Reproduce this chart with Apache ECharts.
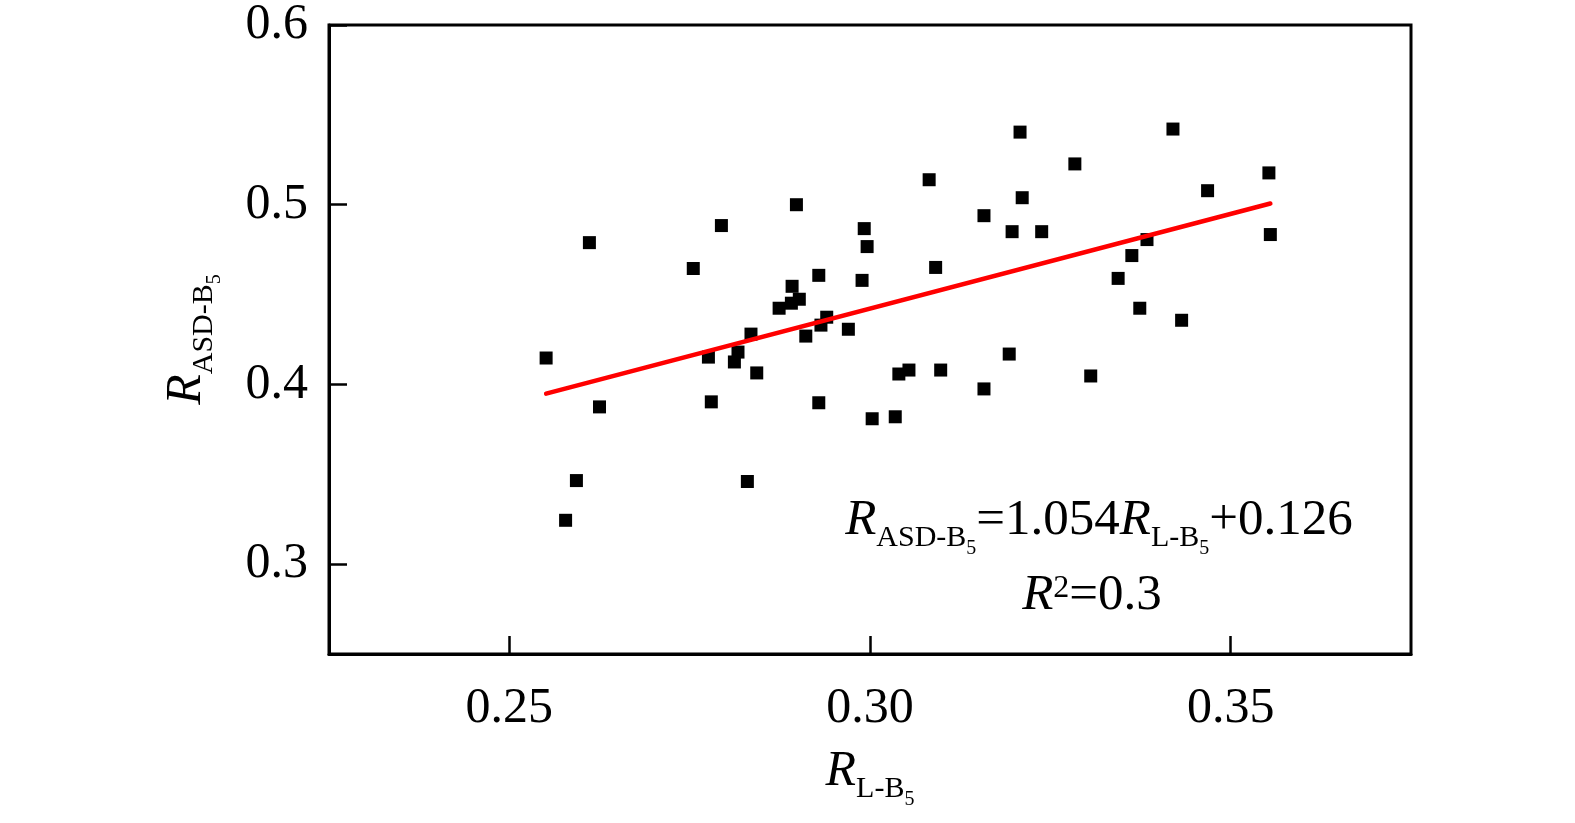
<!DOCTYPE html>
<html>
<head>
<meta charset="utf-8">
<script src="https://cdn.jsdelivr.net/npm/echarts@6/dist/echarts.min.js"></script>
<style>
html,body{margin:0;padding:0;background:#fff;}
#chart{width:1575px;height:823px;}
</style>
</head>
<body>
<div id="chart"></div>
<script>
// R_L-B5 (x) values
const xValues = [
  0.2551, 0.2611, 0.2625, 0.2593, 0.2578, 0.2755, 0.2794, 0.2776, 0.2780, 0.2817,
  0.2812, 0.2830, 0.2835, 0.2843, 0.2874, 0.2891, 0.2892, 0.2902, 0.2898, 0.2911,
  0.2929, 0.2932, 0.2940, 0.2929, 0.2970, 0.2989, 0.2992, 0.2996, 0.3003, 0.3035,
  0.3040, 0.3054, 0.3082, 0.3091, 0.3098, 0.3158, 0.3158, 0.3193, 0.3197, 0.3208,
  0.3211, 0.3238, 0.3284, 0.3306, 0.3344, 0.3363, 0.3374, 0.3384, 0.3420, 0.3432,
  0.3468, 0.3553, 0.3555
];
// R_ASD-B5 (y) values
const yValues = [
  0.4147, 0.4789, 0.3875, 0.3465, 0.3244, 0.4645, 0.4884, 0.4152, 0.3903, 0.4180,
  0.4125, 0.3460, 0.4280, 0.4064, 0.4424, 0.4452, 0.4546, 0.4474, 0.5000, 0.4269,
  0.4607, 0.4330, 0.4374, 0.3898, 0.4307, 0.4579, 0.4867, 0.4767, 0.3809, 0.3820,
  0.4058, 0.4080, 0.5139, 0.4651, 0.4080, 0.4939, 0.3975, 0.4169, 0.4850, 0.5404,
  0.5039, 0.4850, 0.5227, 0.4047, 0.4590, 0.4717, 0.4424, 0.4806, 0.5421, 0.4357,
  0.5078, 0.5177, 0.4834
];
// regression fit shown in the figure
const fitSlope = 1.054;
const fitIntercept = 0.126;
const fitR2 = 0.3;
// tick labels
const xTicks = [0.25, 0.30, 0.35];
const yTicks = [0.3, 0.4, 0.5, 0.6];

const FONT = 'Liberation Serif';

const points = xValues.map((x, i) => [x, yValues[i]]);
const xMin = Math.min(...xValues), xMax = Math.max(...xValues);
const fitLine = [[xMin, fitSlope * xMin + fitIntercept], [xMax, fitSlope * xMax + fitIntercept]];

function subRich(big, sub, ss) {
  return {
    r: {fontFamily: FONT, fontStyle: 'italic', fontSize: big, lineHeight: big, color: '#000', verticalAlign: 'bottom', padding: [0, 0, 13, 0]},
    n: {fontFamily: FONT, fontSize: big, lineHeight: big, color: '#000', verticalAlign: 'bottom', padding: [0, 0, 13, 0]},
    s: {fontFamily: FONT, fontSize: sub, lineHeight: sub, color: '#000', verticalAlign: 'bottom', padding: [0, 0, 6, 0]},
    ss: {fontFamily: FONT, fontSize: ss, lineHeight: ss, color: '#000', verticalAlign: 'bottom', padding: [0, 0, 0, 0]}
  };
}

const chart = echarts.init(document.getElementById('chart'), null, {renderer: 'canvas'});
chart.setOption({
  animation: false,
  backgroundColor: '#fff',
  grid: {left: 329, top: 25, width: 1082, height: 629, show: true, borderColor: '#000', borderWidth: 3, backgroundColor: 'transparent'},
  xAxis: {
    type: 'value', min: 0.225, max: 0.375,
    splitLine: {show: false},
    axisLine: {show: true, lineStyle: {color: '#000', width: 3}},
    axisTick: {show: true, inside: true, length: 18, lineStyle: {color: '#000', width: 2.5}, customValues: xTicks},
    axisLabel: {customValues: xTicks, formatter: v => v.toFixed(2), fontFamily: FONT, fontSize: 50, color: '#000', margin: 30},
    name: '{r|R}{s|L-B}{ss|5}',
    nameLocation: 'middle',
    nameGap: 106,
    nameTextStyle: {rich: subRich(50, 30, 20)}
  },
  yAxis: {
    type: 'value', min: 0.25, max: 0.6,
    splitLine: {show: false},
    axisLine: {show: true, lineStyle: {color: '#000', width: 3}},
    axisTick: {show: true, inside: true, length: 18, lineStyle: {color: '#000', width: 2.5}, customValues: yTicks},
    axisLabel: {customValues: yTicks, formatter: v => v.toFixed(1), fontFamily: FONT, fontSize: 50, color: '#000', margin: 21},
    name: '{r|R}{s|ASD-B}{ss|5}',
    nameLocation: 'middle',
    nameRotate: 90,
    nameGap: 104,
    nameTextStyle: {rich: subRich(50, 30, 20)}
  },
  series: [
    {
      type: 'scatter', data: points, symbol: 'rect', symbolSize: 13,
      itemStyle: {color: '#000', opacity: 1}, z: 2
    },
    {
      type: 'line', data: fitLine, symbol: 'none', z: 3,
      lineStyle: {color: '#ff0000', width: 4.5, cap: 'round'}
    }
  ],
  graphic: [
    {
      type: 'text', x: 1099, y: 508, z: 10,
      style: {
        text: '{r|R}{s|ASD-B}{ss|5}{n|=' + fitSlope.toFixed(3) + '}{r|R}{s|L-B}{ss|5}{n|+' + fitIntercept.toFixed(3) + '}',
        align: 'center', verticalAlign: 'top',
        rich: subRich(51, 30, 20)
      }
    },
    {
      type: 'text', x: 1092, y: 570, z: 10,
      style: {
        text: '{r|R}{sup|2}{n|=' + fitR2 + '}',
        align: 'center', verticalAlign: 'top',
        rich: {
          r: {fontFamily: FONT, fontStyle: 'italic', fontSize: 51, lineHeight: 51, color: '#000', verticalAlign: 'bottom'},
          n: {fontFamily: FONT, fontSize: 51, lineHeight: 51, color: '#000', verticalAlign: 'bottom'},
          sup: {fontFamily: FONT, fontSize: 32, lineHeight: 32, color: '#000', verticalAlign: 'bottom', padding: [0, 0, 16, 0]}
        }
      }
    }
  ]
});
</script>
</body>
</html>
